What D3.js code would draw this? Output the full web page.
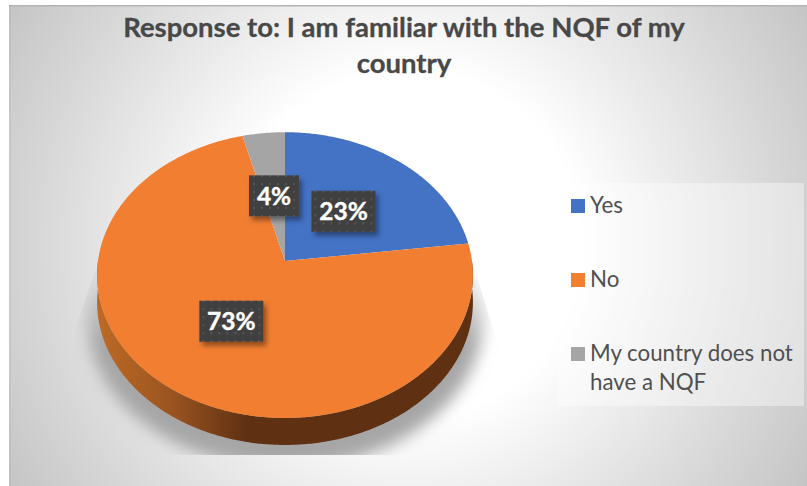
<!DOCTYPE html>
<html>
<head>
<meta charset="utf-8">
<style>
html,body{margin:0;padding:0;background:#fff;overflow:hidden}
svg{display:block}
text{font-family:Lato,"Open Sans",sans-serif}
</style>
<script src="https://cdn.jsdelivr.net/npm/d3@7/dist/d3.min.js"></script>
</head>
<body>
<script>
const titleLines = ["Response to: I am familiar with the NQF of my", "country"];
const categories = ["Yes", "No", "My country does not have a NQF"];
const legendLines = [["Yes"], ["No"], ["My country does not", "have a NQF"]];
const shares = [23, 73, 4];
const colours = ["#4472C4", "#F17E31", "#A5A5A5"];

const W = 807, H = 486;
const svg = d3.select("body").append("svg").attr("width", W).attr("height", H);
const defs = svg.append("defs");

// Background: soft radial fill, white near the middle of the frame
const bg = defs.append("radialGradient").attr("id", "bg")
  .attr("gradientUnits", "userSpaceOnUse")
  .attr("cx", 408).attr("cy", 245).attr("r", 480);
[[0, "#ffffff"], [0.36, "#ffffff"], [0.7, "#dedede"], [1, "#c2c2c2"]].forEach(([o, c]) =>
  bg.append("stop").attr("offset", o).attr("stop-color", c));

svg.append("rect").attr("x", 9).attr("y", 5).attr("width", W - 9).attr("height", H - 5).attr("fill", "url(#bg)");
svg.append("rect").attr("x", 9).attr("y", 5).attr("width", W - 9).attr("height", 1.5).attr("fill", "#b4b4b4");
svg.append("rect").attr("x", 9).attr("y", 5).attr("width", 2).attr("height", H - 5).attr("fill", "#000").attr("opacity", 0.035);

// Tilted-disc projection: a unit circle seen in perspective
const cx = 285, cy = 261, a = 187, b = 141.5, k = 0.0986, depth = 27;
const project = (r, t) => {
  const u = r * Math.sin(t), v = -r * Math.cos(t), w = 1 - k * v;
  return [cx + a * u / w, cy + b * v / w];
};
const rim = (t0, t1) => {
  const n = Math.max(2, Math.ceil((t1 - t0) / 0.01));
  return d3.range(n + 1).map(i => project(1, t0 + (t1 - t0) * i / n));
};
const line = d3.line();

// Ground shadow: fades upward along the sides, cut off flat along the bottom of the plot area
const groundFade = defs.append("linearGradient").attr("id", "groundFade")
  .attr("gradientUnits", "userSpaceOnUse").attr("x1", 0).attr("x2", 0).attr("y1", 268).attr("y2", 345);
[[0, 0.1], [1, 1]].forEach(([o, op]) =>
  groundFade.append("stop").attr("offset", o).attr("stop-color", "#a6a6a6").attr("stop-opacity", op));
defs.append("filter").attr("id", "soft").attr("x", "-20%").attr("y", "-20%").attr("width", "140%").attr("height", "140%")
  .append("feGaussianBlur").attr("stdDeviation", 8);
defs.append("clipPath").attr("id", "groundClip").append("path")
  .attr("d", "M96,268 L474,268 L500,350 L500,455 L68,455 L68,350 Z");
svg.append("g").attr("clip-path", "url(#groundClip)")
  .append("ellipse")
  .attr("cx", cx).attr("cy", 318).attr("rx", 198).attr("ry", 150)
  .attr("fill", "url(#groundFade)").attr("filter", "url(#soft)");

// Disc wall
const wall = defs.append("linearGradient").attr("id", "wall")
  .attr("gradientUnits", "userSpaceOnUse").attr("x1", 97).attr("x2", 473).attr("y1", 0).attr("y2", 0);
[[0, "#bd6a25"], [0.2, "#9a5420"], [0.4, "#5f3012"], [1, "#5f3012"]].forEach(([o, c]) =>
  wall.append("stop").attr("offset", o).attr("stop-color", c));
const lower = rim(Math.PI / 2, 3 * Math.PI / 2);
const wallPts = lower.concat(lower.slice().reverse().map(([x, y]) => [x, y + depth]));
svg.append("path").attr("d", line(wallPts) + "Z").attr("fill", "url(#wall)");

// Slices
const arcs = d3.pie().sort(null)(shares);
svg.append("g").selectAll("path").data(arcs).join("path")
  .attr("d", d => line([[cx, cy], ...rim(d.startAngle, d.endAngle)]) + "Z")
  .attr("fill", (d, i) => colours[i]);

// Value labels on dark dotted plates
const pat = defs.append("pattern").attr("id", "dots").attr("patternUnits", "userSpaceOnUse")
  .attr("width", 8).attr("height", 8);
pat.append("rect").attr("width", 8).attr("height", 8).attr("fill", "#404040");
pat.append("rect").attr("x", 3).attr("y", 3).attr("width", 2).attr("height", 2).attr("fill", "#565656");
const plateShadow = defs.append("filter").attr("id", "plateShadow").attr("x", "-30%").attr("y", "-30%").attr("width", "170%").attr("height", "170%");
plateShadow.append("feDropShadow").attr("dx", 3).attr("dy", 4).attr("stdDeviation", 2.5)
  .attr("flood-color", "#000").attr("flood-opacity", 0.4);

const labels = svg.append("g").selectAll("g").data(arcs).join("g")
  .attr("transform", d => {
    const [x, y] = project(0.49, (d.startAngle + d.endAngle) / 2);
    return `translate(${x},${y + 0.5})`;
  });
labels.append("rect")
  .attr("x", d => d.value < 10 ? -25 : -32).attr("y", -20.5)
  .attr("width", d => d.value < 10 ? 50 : 64).attr("height", 41)
  .attr("fill", "url(#dots)").attr("filter", "url(#plateShadow)");
labels.append("text").attr("text-anchor", "middle").attr("y", 9)
  .attr("fill", "#fff").attr("stroke", "#fff").attr("stroke-width", 0.4)
  .attr("font-weight", 700).attr("font-size", 24.5)
  .text(d => d.value + "%");

// Title
svg.append("g").selectAll("text").data(titleLines).join("text")
  .attr("x", 404).attr("y", (d, i) => 37 + i * 36)
  .attr("text-anchor", "middle").attr("fill", "#484848")
  .attr("stroke", "#484848").attr("stroke-width", 0.3)
  .attr("font-weight", 700).attr("font-size", 27.5).text(d => d);

// Legend
svg.append("rect").attr("x", 558).attr("y", 183).attr("width", 246).attr("height", 223)
  .attr("fill", "#fff").attr("opacity", 0.39);
const legendY = d3.scalePoint().domain(categories).range([206, 354]);
const entries = svg.append("g").selectAll("g").data(categories).join("g")
  .attr("transform", d => `translate(571,${legendY(d)})`);
entries.append("rect").attr("y", -7).attr("width", 14).attr("height", 14)
  .attr("fill", (d, i) => colours[i]);
entries.each(function (d, i) {
  d3.select(this).selectAll("text").data(legendLines[i]).join("text")
    .attr("x", 19).attr("y", (l, j) => 7 + j * 29)
    .attr("fill", "#505050").attr("font-size", 22.3).text(l => l);
});
</script>
</body>
</html>
